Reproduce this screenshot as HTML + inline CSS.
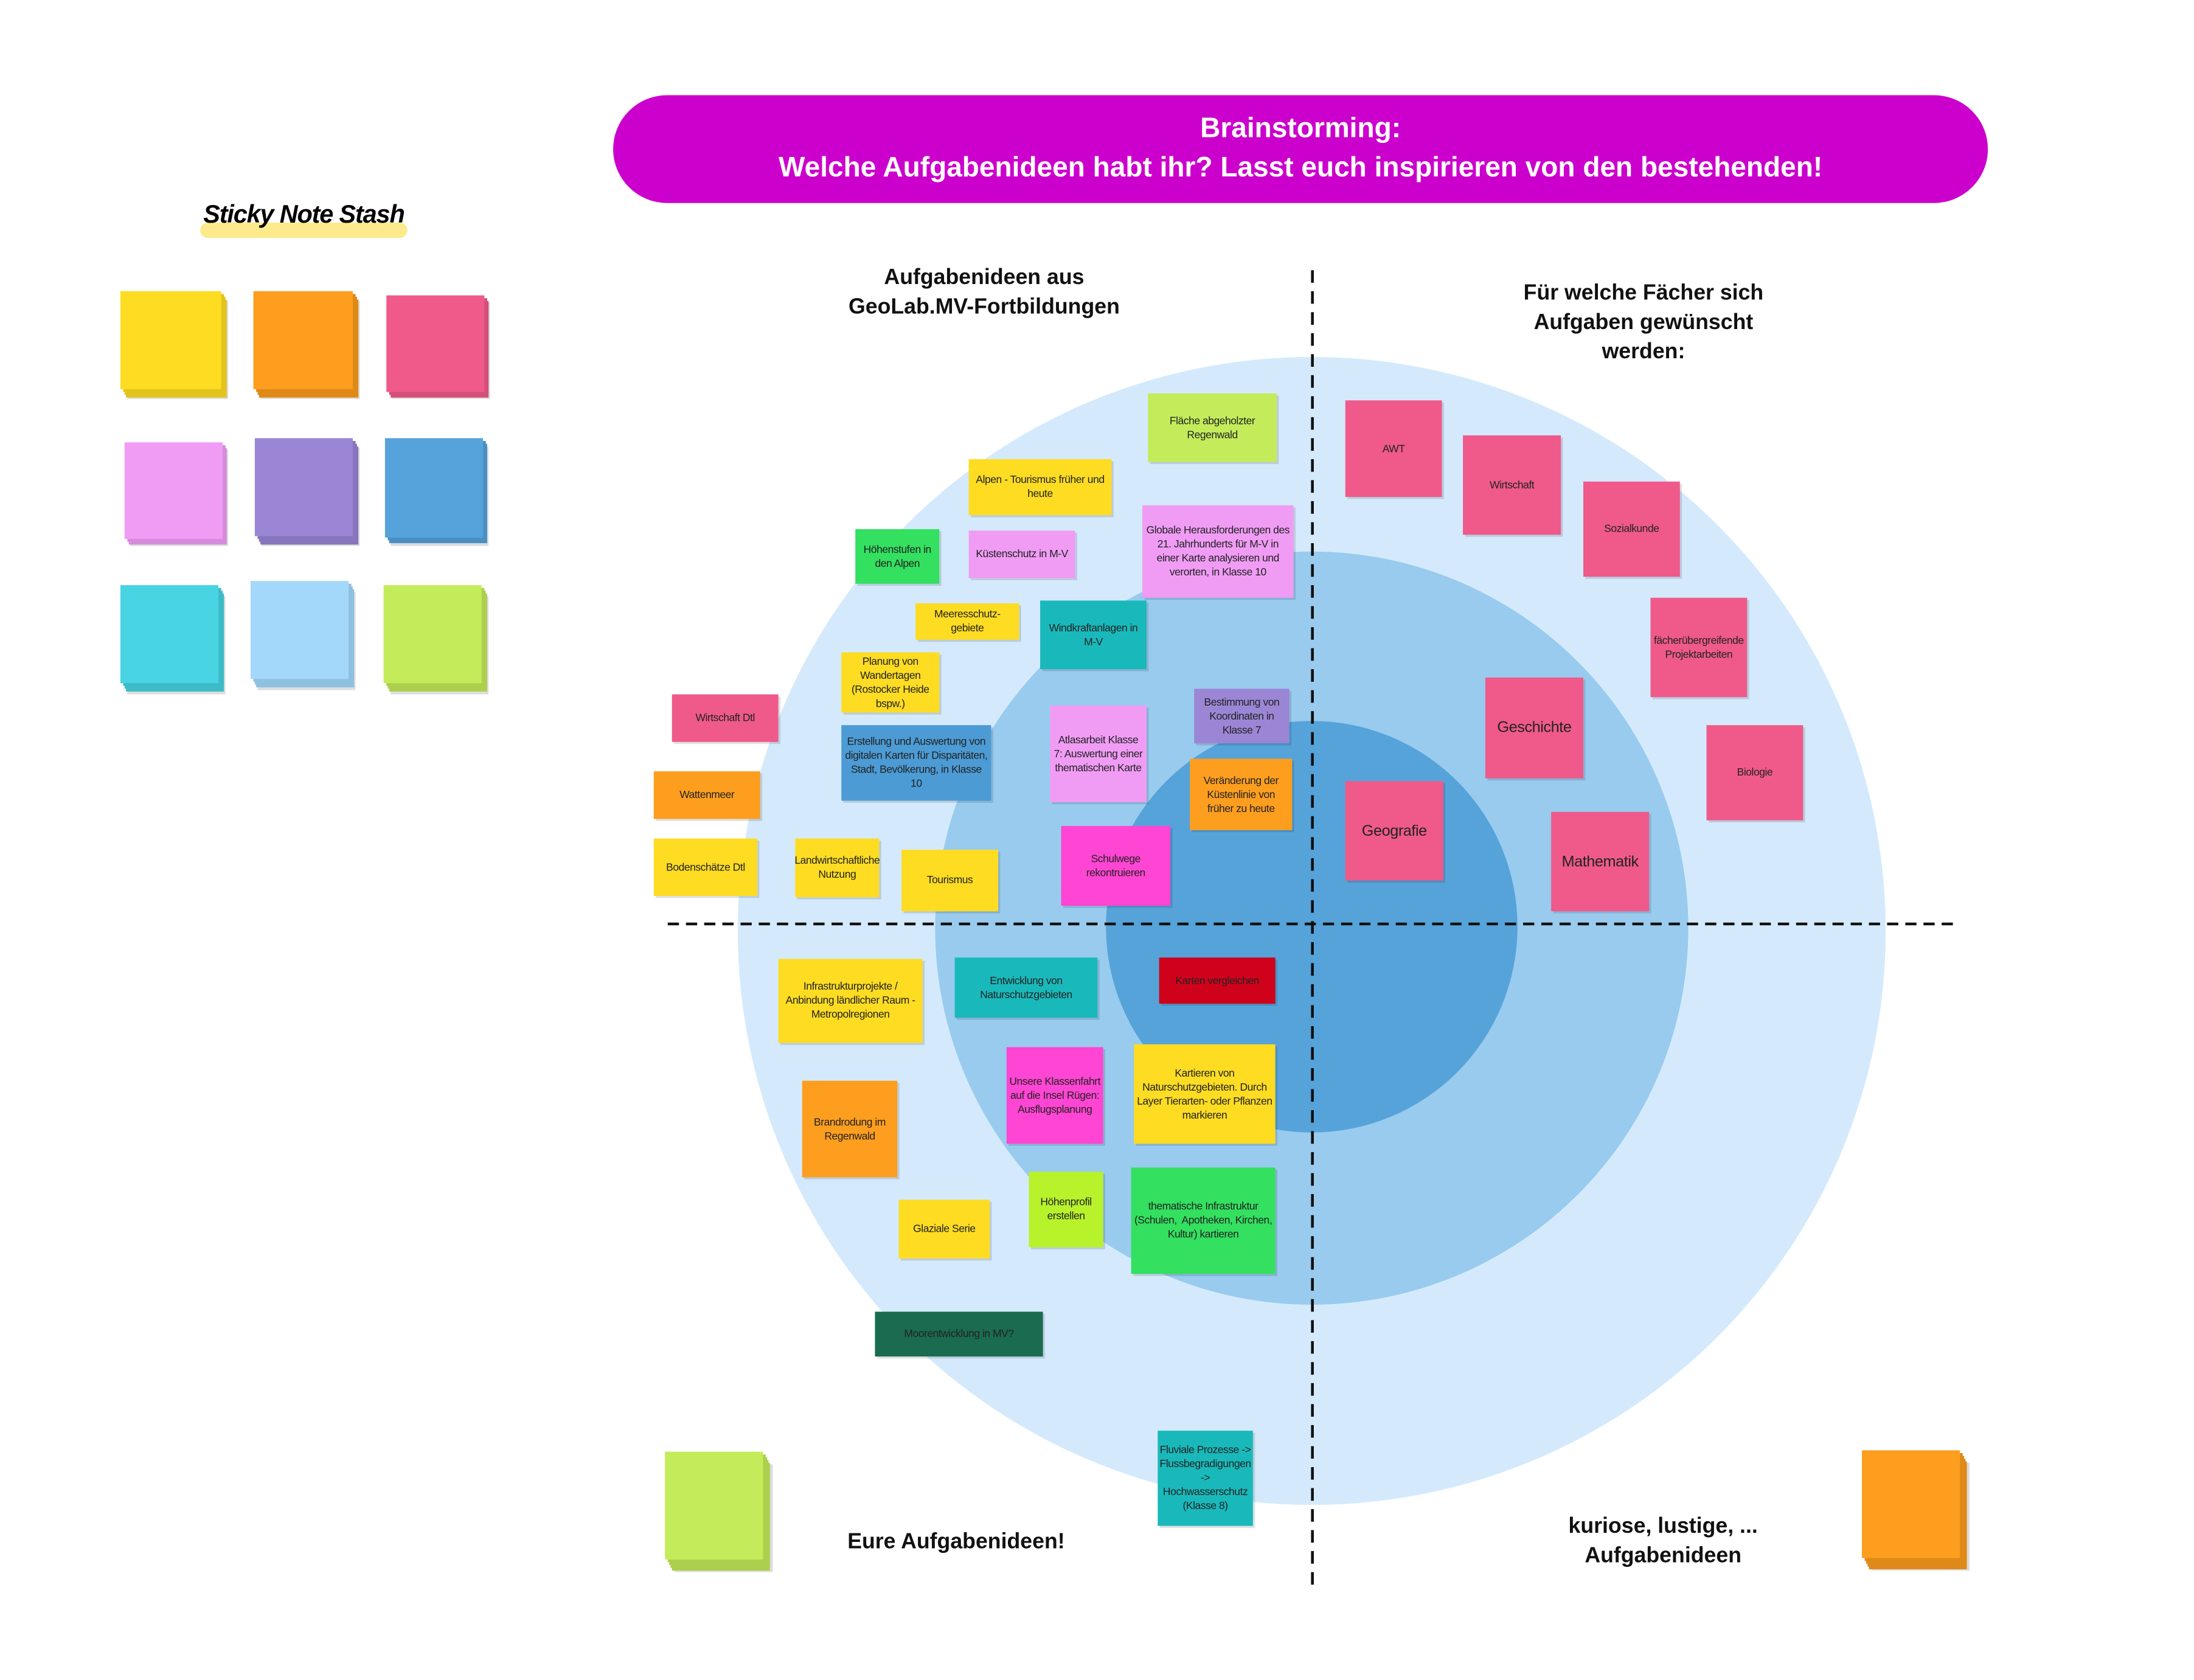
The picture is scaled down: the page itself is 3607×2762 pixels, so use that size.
<!DOCTYPE html>
<html><head><meta charset="utf-8"><style>
html,body{margin:0;padding:0;background:#fff;}
body{width:3607px;height:2755px;overflow:hidden;position:relative;}
#w{position:absolute;left:0;top:0;width:1570px;height:1200px;transform:scale(2.3015);transform-origin:0 0;font-family:"Liberation Sans",sans-serif;}
.a{position:absolute;}
.n{position:absolute;display:flex;align-items:center;justify-content:center;text-align:center;font-size:7.6px;line-height:10px;color:#222;box-shadow:1.5px 1.5px 0 rgba(0,0,0,0.12);padding:0 2px;box-sizing:border-box;letter-spacing:-0.2px;}
.y{background:#fddc22}.o{background:#fd9e1f}.p{background:#ef5a8b}.v{background:#f09cf5}.t{background:#19b9bb}.g{background:#33e05f}.l{background:#c4ec5a}.b{background:#4c9bd5}.u{background:#9b86d6}.m{background:#ff45d3}
.h{position:absolute;text-align:center;font-weight:bold;font-size:15.5px;line-height:21px;color:#111;}
.s{position:absolute;}
</style></head><body><div id="w">
<div class="a" style="left:438px;top:68px;width:982px;height:77px;border-radius:39px;background:#cc00cc;color:#fff;font-weight:bold;font-size:20px;line-height:28px;text-align:center;padding-top:10px;box-sizing:border-box;">Brainstorming:<br>Welche Aufgabenideen habt ihr? Lasst euch inspirieren von den bestehenden!</div>

<div class="a" style="left:143px;top:159px;width:148px;height:11px;border-radius:6px;background:#fdeb8b"></div>
<div class="a" style="left:140px;top:143px;width:154px;text-align:center;font-weight:bold;font-size:18px;font-family:'Liberation Sans',sans-serif;font-style:italic;letter-spacing:-0.5px;">Sticky Note Stash</div>

<div class="s" style="left:86px;top:208px;width:72px;height:70px;background:#fddc22;box-shadow:2px 2px 0 #e3c41d,3px 4px 0 #e3c41d,4px 6px 0 #e3c41d,5px 7px 0 #ddd"></div>
<div class="s" style="left:181px;top:208px;width:71px;height:70px;background:#fd9e1f;box-shadow:2px 2px 0 #df8a18,3px 4px 0 #df8a18,4px 6px 0 #df8a18,5px 7px 0 #ddd"></div>
<div class="s" style="left:276px;top:211px;width:70px;height:69px;background:#ef5a8b;box-shadow:2px 2px 0 #d44f7a,3px 4px 0 #d44f7a,4px 5px 0 #ddd"></div>
<div class="s" style="left:89px;top:316px;width:70px;height:69px;background:#f09cf5;box-shadow:2px 2px 0 #d68bdb,3px 4px 0 #d68bdb,4px 5px 0 #ddd"></div>
<div class="s" style="left:182px;top:313px;width:70px;height:70px;background:#9b86d6;box-shadow:2px 2px 0 #8775bd,3px 4px 0 #8775bd,4px 6px 0 #8775bd,5px 7px 0 #ddd"></div>
<div class="s" style="left:275px;top:313px;width:70px;height:71px;background:#56a3dc;box-shadow:2px 2px 0 #4b8fc2,3px 4px 0 #4b8fc2,4px 6px 0 #ddd"></div>
<div class="s" style="left:86px;top:418px;width:70px;height:70px;background:#48d4e2;box-shadow:2px 2px 0 #3dbbc7,3px 4px 0 #3dbbc7,4px 6px 0 #3dbbc7,5px 8px 0 #ddd"></div>
<div class="s" style="left:179px;top:415px;width:70px;height:70px;background:#a4d8fa;box-shadow:2px 2px 0 #8fc0e0,3px 4px 0 #8fc0e0,4px 6px 0 #8fc0e0,5px 8px 0 #ddd"></div>
<div class="s" style="left:274px;top:418px;width:70px;height:70px;background:#c4ec5a;box-shadow:2px 2px 0 #acd04e,3px 4px 0 #acd04e,4px 6px 0 #acd04e,5px 8px 0 #ddd"></div>

<svg class="a" style="left:0;top:0" width="1570" height="1200">
<circle cx="937" cy="665" r="410" fill="#d4eafc"/>
<circle cx="937" cy="663" r="269" fill="#99cbee"/>
<circle cx="937" cy="662" r="147" fill="#56a3da"/>
</svg>

<div class="h" style="left:573px;top:188px;width:260px;">Aufgabenideen aus<br>GeoLab.MV-Fortbildungen</div>
<div class="h" style="left:1044px;top:199px;width:260px;">Für welche Fächer sich<br>Aufgaben gewünscht<br>werden:</div>
<div class="h" style="left:573px;top:1091px;width:220px;">Eure Aufgabenideen!</div>
<div class="h" style="left:1078px;top:1080px;width:220px;">kuriose, lustige, ...<br>Aufgabenideen</div>

<div class="s" style="left:475px;top:1037px;width:70px;height:77px;background:#c4ec5a;box-shadow:2px 2px 0 #acd04e,3px 4px 0 #acd04e,4px 6px 0 #acd04e,5px 8px 0 #acd04e,7px 9px 0 #ddd"></div>
<div class="s" style="left:1330px;top:1036px;width:70px;height:77px;background:#fd9e1f;box-shadow:2px 2px 0 #df8a18,3px 4px 0 #df8a18,4px 6px 0 #df8a18,5px 8px 0 #df8a18,7px 9px 0 #ddd"></div>

<div class="n l" style="left:820px;top:281px;width:92px;height:49px;">Fläche abgeholzter Regenwald</div>
<div class="n y" style="left:692px;top:328px;width:102px;height:40px;">Alpen - Tourismus früher und heute</div>
<div class="n g" style="left:611px;top:378px;width:60px;height:39px;">Höhenstufen in den Alpen</div>
<div class="n v" style="left:692px;top:379px;width:76px;height:34px;">Küstenschutz in M-V</div>
<div class="n v" style="left:816px;top:361px;width:108px;height:66px;">Globale Herausforderungen des 21. Jahrhunderts für M-V in einer Karte analysieren und verorten, in Klasse 10</div>
<div class="n y" style="left:654px;top:431px;width:74px;height:26px;">Meeresschutz-gebiete</div>
<div class="n t" style="left:743px;top:429px;width:76px;height:49px;">Windkraftanlagen in M-V</div>
<div class="n y" style="left:601px;top:466px;width:70px;height:43px;">Planung von Wandertagen (Rostocker Heide bspw.)</div>
<div class="n p" style="left:480px;top:496px;width:76px;height:34px;">Wirtschaft Dtl</div>
<div class="n b" style="left:601px;top:518px;width:107px;height:54px;">Erstellung und Auswertung von digitalen Karten für Disparitäten, Stadt, Bevölkerung, in Klasse 10</div>
<div class="n v" style="left:750px;top:504px;width:69px;height:69px;">Atlasarbeit Klasse 7: Auswertung einer thematischen Karte</div>
<div class="n u" style="left:853px;top:492px;width:68px;height:39px;">Bestimmung von Koordinaten in Klasse 7</div>
<div class="n o" style="left:850px;top:542px;width:73px;height:51px;">Veränderung der Küstenlinie von früher zu heute</div>
<div class="n o" style="left:467px;top:551px;width:76px;height:34px;">Wattenmeer</div>
<div class="n y" style="left:467px;top:599px;width:74px;height:41px;">Bodenschätze Dtl</div>
<div class="n y" style="left:568px;top:599px;width:60px;height:42px;">Landwirtschaftliche Nutzung</div>
<div class="n y" style="left:644px;top:607px;width:69px;height:44px;">Tourismus</div>
<div class="n m" style="left:758px;top:590px;width:78px;height:57px;">Schulwege rekontruieren</div>
<div class="n y" style="left:556px;top:685px;width:103px;height:60px;">Infrastrukturprojekte / Anbindung ländlicher Raum - Metropolregionen</div>
<div class="n t" style="left:682px;top:684px;width:102px;height:43px;">Entwicklung von Naturschutzgebieten</div>
<div class="n" style="left:828px;top:684px;width:83px;height:33px;background:#d0021b;">Karten vergleichen</div>
<div class="n m" style="left:719px;top:748px;width:69px;height:69px;">Unsere Klassenfahrt auf die Insel Rügen: Ausflugsplanung</div>
<div class="n y" style="left:810px;top:746px;width:101px;height:71px;">Kartieren von Naturschutzgebieten. Durch Layer Tierarten- oder Pflanzen markieren</div>
<div class="n o" style="left:573px;top:772px;width:68px;height:69px;">Brandrodung im Regenwald</div>
<div class="n y" style="left:642px;top:857px;width:65px;height:42px;">Glaziale Serie</div>
<div class="n" style="left:735px;top:837px;width:53px;height:54px;background:#b8f22a;">Höhenprofil erstellen</div>
<div class="n g" style="left:808px;top:834px;width:103px;height:76px;">thematische Infrastruktur (Schulen,&nbsp; Apotheken, Kirchen, Kultur) kartieren</div>
<div class="n" style="left:625px;top:937px;width:120px;height:32px;background:#1a6b50;">Moorentwicklung in MV?</div>
<div class="n t" style="left:827px;top:1022px;width:68px;height:68px;">Fluviale Prozesse -&gt; Flussbegradigungen -&gt; Hochwasserschutz (Klasse 8)</div>

<div class="n p" style="left:961px;top:286px;width:69px;height:69px;">AWT</div>
<div class="n p" style="left:1045px;top:311px;width:70px;height:71px;">Wirtschaft</div>
<div class="n p" style="left:1131px;top:344px;width:69px;height:68px;">Sozialkunde</div>
<div class="n p" style="left:1179px;top:427px;width:69px;height:71px;">fächerübergreifende Projektarbeiten</div>
<div class="n p" style="left:1061px;top:484px;width:70px;height:72px;font-size:11px;">Geschichte</div>
<div class="n p" style="left:1219px;top:518px;width:69px;height:68px;">Biologie</div>
<div class="n p" style="left:961px;top:558px;width:70px;height:71px;font-size:11px;">Geografie</div>
<div class="n p" style="left:1108px;top:580px;width:70px;height:71px;font-size:11px;">Mathematik</div>

<svg class="a" style="left:0;top:0" width="1570" height="1200">
<line x1="937.5" y1="193" x2="937.5" y2="1132" stroke="#111" stroke-width="2" stroke-dasharray="9,6"/>
<line x1="477" y1="660" x2="1398" y2="660" stroke="#111" stroke-width="2" stroke-dasharray="8,5"/>
</svg>
</div></body></html>
